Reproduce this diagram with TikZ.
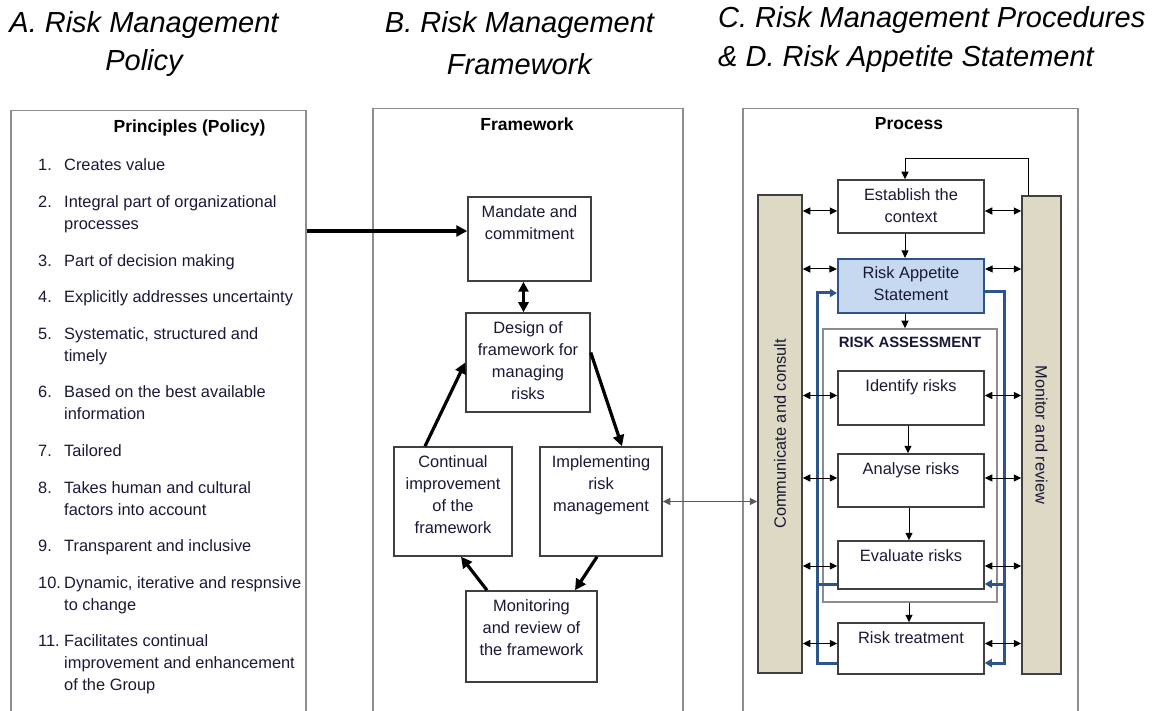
\documentclass[tikz,border=0pt]{standalone}
\usepackage{fontspec}
\setmainfont{Liberation Sans}
\usepackage{xcolor}
\usetikzlibrary{arrows.meta,calc}

\definecolor{boxline}{RGB}{64,64,64}
\definecolor{panelline}{RGB}{140,140,140}
\definecolor{bartan}{RGB}{221,217,196}
\definecolor{rasblue}{RGB}{198,217,241}
\definecolor{loopblue}{RGB}{46,84,140}
\definecolor{ink}{RGB}{25,25,55}

\newcommand{\boxfont}{\fontsize{16.4}{22}\selectfont}
% box with its text set at the top
\newcommand{\stagebox}[6]{%
	\node[stage,minimum width=#4pt,minimum height=#5pt] (#1) at (#2,#3) {};
	\node[word] (#1-t) at ([yshift=-9pt]#1.north) {#6};}

\begin{document}
\begin{tikzpicture}[x=1pt,y=-1pt,
	panel/.style={draw=panelline,line width=1.5pt,anchor=north west,inner sep=0},
	stage/.style={draw=boxline,line width=1.5pt,fill=white,inner sep=0},
	word/.style={text=ink,font=\boxfont,align=center,inner sep=0,anchor=north},
	item/.style={text=ink,font=\boxfont,inner sep=0,anchor=base west},
	head/.style={font=\fontsize{17.5}{20}\selectfont\bfseries,inner sep=0},
	title/.style={font=\fontsize{29}{34}\selectfont\itshape,inner sep=0},
	heavy/.style={line width=3.2pt,-{Triangle[length=11pt,width=11pt]}},
	heavyboth/.style={line width=3.2pt,{Triangle[length=10pt,width=10pt]}-{Triangle[length=10pt,width=10pt]}},
	link/.style={line width=1pt,-{Triangle[length=7.5pt,width=7pt]}},
	linkboth/.style={line width=1pt,{Triangle[length=7.5pt,width=7pt]}-{Triangle[length=7.5pt,width=7pt]}},
	greylink/.style={draw=black!65,line width=1pt,{Triangle[length=7.5pt,width=7pt]}-{Triangle[length=7.5pt,width=7pt]}},
	bluelink/.style={draw=loopblue,line width=3pt,line join=miter},
	bluetip/.style={-{Triangle[length=7pt,width=8pt,fill=loopblue]}}]
	\useasboundingbox (0,0) rectangle (1162,711);

	% titles
	\node[title,anchor=north,align=center] (titleA) at (144,11) {A. Risk Management\\[4pt]Policy};
	\node[title,anchor=north,align=center] (titleB) at (519.5,11) {B. Risk Management\\[8pt]Framework};
	\node[title,anchor=north west,align=left] (titleC) at (718,6) {C. Risk Management Procedures\\[5pt]\& D. Risk Appetite Statement};

	% panels
	\node[panel,minimum width=295pt,minimum height=640pt] (policy) at (10,110) {};
	\node[panel,minimum width=310pt,minimum height=640pt] (frame) at (372,108) {};
	\node[panel,minimum width=335pt,minimum height=640pt] (proc) at (742,108) {};
	\node[head] (policy-h) at (189.5,128) {Principles (Policy)};
	\node[head] (frame-h) at (527,124) {Framework};
	\node[head] (proc-h) at (909,124) {Process};

	% principles
	\foreach \n/\y/\t in {1/165/{Creates value},
		2/202/{Integral part of organizational\\processes},
		3/261/{Part of decision making},
		4/297/{Explicitly addresses uncertainty},
		5/333/{Systematic, structured and\\timely},
		6/391/{Based on the best available\\information},
		7/450/{Tailored},
		8/487/{Takes human and cultural\\factors into account},
		9/545/{Transparent and inclusive},
		10/582/{Dynamic, iterative and respnsive\\to change},
		11/640/{Facilitates continual\\improvement and enhancement\\of the Group}}
		\node[item] (item\n) at (38,\y+6) {\makebox[26pt][l]{\n.}\parbox[t]{245pt}{\raggedright\t}};

	% framework
	\stagebox{mandate}{529.5}{239}{123}{84}{Mandate and\\commitment}
	\stagebox{design}{528}{362.5}{124}{99}{Design of\\framework for\\managing\\risks}
	\stagebox{continual}{453}{501.5}{118}{109}{Continual\\improvement\\of the\\framework}
	\stagebox{implementing}{601}{501.5}{122}{109}{Implementing\\risk\\management}
	\stagebox{monitoring}{531.5}{636.5}{131}{91}{Monitoring\\and review of\\the framework}

	\coordinate (mw) at ([yshift=8pt]mandate.west);
	\draw[heavy] (policy.east |- mw) -- (mw);
	\draw[heavyboth] ([xshift=-6pt]mandate.south) -- ([xshift=-6pt]mandate.south |- design.north);
	\draw[heavy] ([yshift=10pt]design.east) -- ([xshift=21pt]implementing.north);
	\draw[heavy] ([xshift=-4pt]implementing.south) -- ([xshift=43.5pt]monitoring.north);
	\draw[heavy] ([xshift=-44.5pt]monitoring.north) -- ([xshift=8pt]continual.south);
	\draw[heavy] ([xshift=-28pt]continual.north) -- (design.west);

	% process
	\node[stage,draw=panelline,fill=none,minimum width=174pt,minimum height=273pt] (assess) at (910,465.5) {};
	\node[head,font=\fontsize{14.9}{17}\selectfont\bfseries,text=ink,anchor=north] (assess-t) at ([yshift=-8.6pt]assess.north) {RISK ASSESSMENT};
	\node[stage,fill=bartan,minimum width=44pt,minimum height=478pt] (comm) at (780,434) {};
	\node[stage,fill=bartan,minimum width=39pt,minimum height=478pt] (monitor) at (1041.5,435) {};
	\node[word,anchor=center,rotate=90] (comm-t) at (comm.center) {Communicate and consult};
	\node[word,anchor=center,rotate=-90] (monitor-t) at (monitor.center) {Monitor and review};

	\stagebox{establish}{911}{206.5}{146}{53}{Establish the\\context}
	\stagebox{identify}{911}{398}{146}{54}{Identify risks}
	\stagebox{analyse}{911}{480.5}{146}{53}{Analyse risks}
	\stagebox{evaluate}{911}{565}{146}{48}{Evaluate risks}
	\stagebox{treatment}{911}{648.5}{146}{51}{Risk treatment}
	\node[stage,fill=rasblue,draw=loopblue,line width=2.2pt,minimum width=146pt,minimum height=54pt] (appetite) at (911,286) {};
	\node[word] (appetite-t) at ([yshift=-9pt]appetite.north) {Risk Appetite\\Statement};

	% blue loops
	\coordinate (lrail) at (817,0);
	\coordinate (rrail) at (1004,0);
	\path ([yshift=-14.5pt]treatment.west) coordinate (tw) ([yshift=-14.5pt]treatment.east) coordinate (te)
		([yshift=-19pt]evaluate.west) coordinate (ew) ([yshift=-19pt]evaluate.east) coordinate (ee)
		([yshift=-7pt]appetite.west) coordinate (aw) ([yshift=-6pt]appetite.east) coordinate (ae);
	\draw[bluelink,bluetip] (tw) -- (tw -| lrail) -- (aw -| lrail) -- (aw);
	\draw[bluelink] (ew) -- (ew -| lrail);
	\draw[bluelink,bluetip] (ae) -- (ae -| rrail) -- (te -| rrail) -- (te);
	\draw[bluelink,bluetip] (ee -| rrail) -- (ee);

	% flow
	\draw[link] ([xshift=-13.5pt]monitor.north) -- ++(0,-37) -| ([xshift=-6pt]establish.north);
	\draw[link] ([xshift=-6pt]establish.south) -- ([xshift=-6pt]appetite.north);
	\draw[link] ([xshift=-6pt]appetite.south) -- ([xshift=-6pt]appetite.south |- assess.north);
	\draw[link] ([xshift=-3pt]identify.south) -- ([xshift=-3pt]analyse.north);
	\draw[link] ([xshift=-2pt]analyse.south) -- ([xshift=-2pt]evaluate.north);
	\draw[link] ([xshift=-1pt]assess.south) -- ([xshift=-2pt]treatment.north);

	\foreach \b/\dy in {establish/-4.5,appetite/17,identify/2.5,analyse/2.5,evaluate/-1,treatment/5}{
		\path ([yshift=\dy pt]\b.west) coordinate (l) ([yshift=\dy pt]\b.east) coordinate (r);
		\draw[linkboth] (comm.east |- l) -- (l);
		\draw[linkboth] (r) -- (monitor.west |- r);
	}

	\draw[greylink] (implementing.east) -- (comm.west |- implementing.east);
\end{tikzpicture}
\end{document}
